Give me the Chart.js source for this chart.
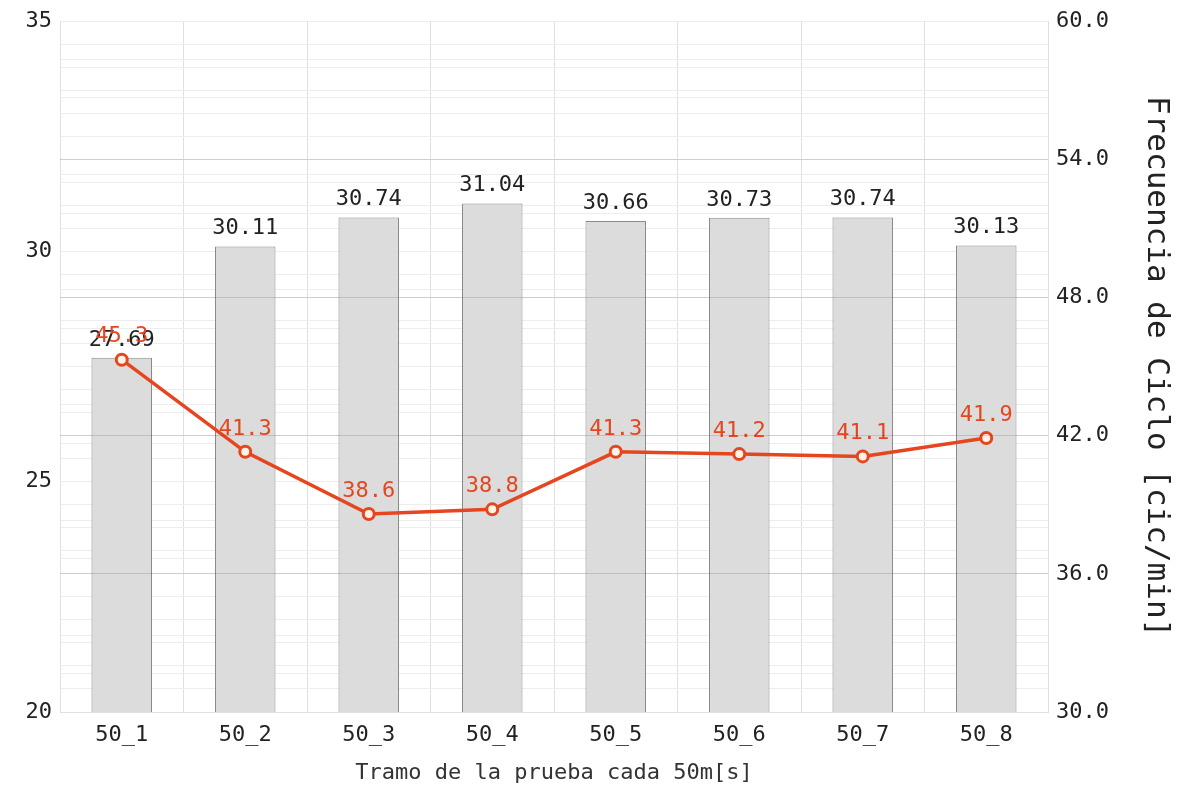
<!DOCTYPE html>
<html>
<head>
<meta charset="utf-8">
<script src="https://cdn.jsdelivr.net/npm/chart.js@4.4.1/dist/chart.umd.min.js"></script>
<style>
  html, body { margin: 0; padding: 0; background: #fff; }
  #wrap { width: 1187px; height: 786px; }
</style>
</head>
<body>
<div id="wrap"><canvas id="chart-1" width="1187" height="786"></canvas></div>
<script>
const tramos = ['50_1', '50_2', '50_3', '50_4', '50_5', '50_6', '50_7', '50_8'];
const tiempos = [27.69, 30.11, 30.74, 31.04, 30.66, 30.73, 30.74, 30.13];
const frecuencia = [45.3, 41.3, 38.6, 38.8, 41.3, 41.2, 41.1, 41.9];
const leftTicks = [20, 25, 30, 35];
const rightTicks = [30, 36, 42, 48, 54, 60];

const FONT = "'DejaVu Sans Mono', monospace";
const RED = '#e5461f';

// value labels above bars and points
const valueLabels = {
  id: 'valueLabels',
  afterDatasetsDraw(chart) {
    const ctx = chart.ctx;
    ctx.save();
    ctx.font = '22px ' + FONT;
    ctx.textAlign = 'center';
    ctx.textBaseline = 'bottom';
    chart.getDatasetMeta(1).data.forEach((bar, i) => {
      ctx.fillStyle = '#222';
      ctx.fillText(tiempos[i].toFixed(2), bar.x, bar.y - 7);
    });
    chart.getDatasetMeta(0).data.forEach((pt, i) => {
      ctx.fillStyle = RED;
      ctx.fillText(frecuencia[i].toFixed(1), pt.x, pt.y - 12);
    });
    ctx.restore();
  }
};

const ctx_1 = document.getElementById('chart-1').getContext('2d');

new Chart(ctx_1, {
  data: {
    labels: tramos,
    datasets: [{
      type: 'line',
      label: 'Frecuencia',
      data: frecuencia,
      yAxisID: 'y1',
      borderColor: RED,
      borderWidth: 3.5,
      pointRadius: 5.5,
      pointBorderWidth: 3,
      pointBackgroundColor: '#fff3e6',
      pointBorderColor: RED,
      tension: 0,
      order: 1
    }, {
      type: 'bar',
      label: 'Tiempo',
      data: tiempos,
      yAxisID: 'y',
      backgroundColor: '#dcdcdc',
      borderColor: '#8a8a8a',
      borderWidth: 1,
      barPercentage: 0.49,
      categoryPercentage: 1,
      order: 2
    }]
  },
  options: {
    responsive: false,
    animation: false,
    layout: { padding: { top: 20, left: 0, right: 0, bottom: 0 } },
    plugins: {
      legend: { display: false },
      tooltip: { enabled: false }
    },
    scales: {
      x: {
        grid: { color: '#e0e0e0', offset: true, drawTicks: false },
        border: { color: '#e0e0e0' },
        ticks: { font: { family: FONT, size: 22 }, color: '#222', padding: 10 },
        title: {
          display: true,
          text: 'Tramo de la prueba cada 50m[s]',
          font: { family: FONT, size: 22 },
          color: '#333',
          padding: { top: 4, bottom: 0 }
        },
        afterFit: (scale) => { scale.height = 74; }
      },
      y: {
        position: 'left',
        min: 20,
        max: 35,
        afterBuildTicks: (scale) => {
          const t = [];
          for (let i = 0; i <= 18; i++) t.push({ value: 20 + i * 5 / 6 });
          scale.ticks = t;
        },
        ticks: {
          autoSkip: false,
          font: { family: FONT, size: 22 },
          color: '#222',
          padding: 8,
          callback: (v) => {
            const hit = leftTicks.find(t => Math.abs(t - v) < 1e-6);
            return hit !== undefined ? String(hit) : '';
          }
        },
        grid: { color: '#ededed', drawTicks: false },
        border: { color: '#e0e0e0' },
        afterFit: (scale) => { scale.width = 60; }
      },
      y1: {
        position: 'right',
        min: 30,
        max: 60,
        ticks: {
          stepSize: 1,
          autoSkip: false,
          font: { family: FONT, size: 22 },
          color: '#222',
          padding: 8,
          callback: (v) => rightTicks.includes(v) ? v.toFixed(1) : ''
        },
        grid: { color: '#ededed', drawTicks: false },
        border: { color: '#e0e0e0' },
        title: {
          display: true,
          text: 'Frecuencia de Ciclo [cic/min]',
          font: { family: FONT, size: 31 },
          color: '#222',
          padding: { top: 12, bottom: 0 }
        },
        afterFit: (scale) => { scale.width = 139; }
      },
      y2: {
        position: 'right',
        display: true,
        min: 30,
        max: 60,
        afterBuildTicks: (scale) => {
          scale.ticks = rightTicks.slice(1, -1).map(v => ({ value: v }));
        },
        ticks: { display: false },
        grid: { color: 'rgba(0,0,0,0.13)', drawTicks: false, z: 1 },
        border: { display: false },
        afterFit: (scale) => { scale.width = 0; }
      }
    }
  },
  plugins: [valueLabels]
});
</script>
</body>
</html>
